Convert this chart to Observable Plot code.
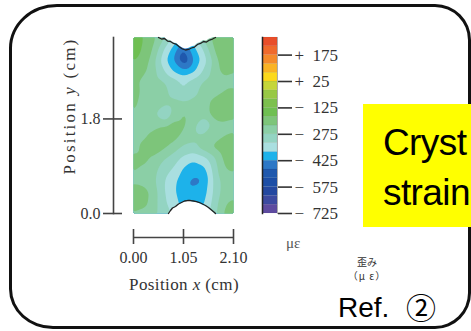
<!DOCTYPE html>
<html><head><meta charset="utf-8">
<script src="https://cdn.jsdelivr.net/npm/d3@7"></script>
<script src="https://cdn.jsdelivr.net/npm/@observablehq/plot@0.6"></script>
<style>
html,body{margin:0;padding:0;background:#fff;}
#stage{position:relative;width:471px;height:331px;overflow:hidden;background:#fff;}
#stage svg{position:absolute;left:0;top:0;}
.box{position:absolute;left:9px;top:4px;width:462px;height:325px;box-sizing:border-box;border:3px solid #111;border-radius:48px 36px 36px 44px / 44px 36px 36px 40px;}
.t{position:absolute;white-space:nowrap;margin:0;}
.serif{font-family:"Liberation Serif","Times New Roman",serif;color:#333;}
.sans{font-family:"Liberation Sans",Arial,sans-serif;color:#000;}
.jp{font-family:"Noto Sans CJK JP",sans-serif;color:#333;}
.yellow{position:absolute;left:363px;top:104px;width:140px;height:123px;background:#ffff00;}
</style>
</head><body>
<div id="stage">
  <div class="box"></div>
  <div class="yellow"></div>
  <div class="t sans" style="left:383px;top:123.7px;font-size:37px;line-height:37px;letter-spacing:-0.6px;">Cryst</div>
  <div class="t sans" style="left:383px;top:173.7px;font-size:37px;line-height:37px;letter-spacing:-0.6px;">strain</div>
  <div class="t serif" style="left:69px;top:106px;font-size:17px;line-height:17px;letter-spacing:2.2px;transform:translate(-50%,-50%) rotate(-90deg);">Position <i>y</i> (cm)</div>
  <div class="t serif" style="left:184px;top:276px;font-size:17px;line-height:17px;letter-spacing:0.4px;transform:translateX(-50%);">Position <i>x</i> (cm)</div>
  <div class="t serif" style="left:286px;top:236.4px;font-size:15px;line-height:15px;color:#555;">με</div>
  <div class="t jp" style="left:367px;top:256.6px;font-size:10px;line-height:10px;transform:translateX(-50%);">歪み</div>
  <div class="t jp" style="left:367px;top:270.6px;font-size:10px;line-height:10px;letter-spacing:1px;transform:translateX(-50%);">（μ ε）</div>
  <div class="t sans" style="left:338px;top:294.3px;font-size:28px;line-height:28px;">Ref.</div>
  <div class="t" style="left:406px;top:291px;font-family:'Noto Sans CJK JP',sans-serif;font-size:30px;line-height:30px;color:#000;">②</div>
</div>
<script>
// ---- data ----
const xDomain = [0, 2.1];
const yDomain = [0, 3.35];
const xTicks = [0, 1.05, 2.1];
const yTicks = [0, 1.8];
// grid sample positions (cm)
const xs = [0, 0.21, 0.42, 0.63, 0.84, 1.05, 1.26, 1.47, 1.68, 1.89, 2.1];
const ys = [3.35, 3.141, 2.931, 2.722, 2.513, 2.303, 2.094, 1.884, 1.675, 1.466, 1.256, 1.047, 0.838, 0.628, 0.419, 0.209, 0];
// strain (με), rows top (y=3.35) to bottom (y=0), columns left to right
const strain = [
  [-168,-172,-215,-265,-330,-390,-330,-265,-215,-185,-190],
  [-165,-175,-230,-320,-390,-480,-390,-320,-225,-180,-185],
  [-170,-185,-255,-354,-425,-530,-425,-354,-260,-185,-200],
  [-190,-210,-255,-320,-385,-420,-390,-320,-255,-205,-220],
  [-210,-240,-255,-270,-300,-335,-305,-270,-250,-240,-250],
  [-200,-240,-255,-260,-290,-330,-290,-255,-245,-225,-210],
  [-210,-245,-255,-260,-262,-265,-250,-250,-210,-180,-190],
  [-225,-255,-260,-335,-255,-215,-245,-255,-205,-180,-210],
  [-245,-255,-245,-230,-200,-215,-255,-335,-255,-245,-245],
  [-255,-235,-205,-180,-200,-245,-260,-260,-245,-225,-210],
  [-250,-205,-185,-215,-250,-285,-290,-250,-215,-195,-190],
  [-205,-210,-235,-270,-300,-340,-370,-345,-290,-215,-195],
  [-220,-235,-255,-300,-330,-385,-400,-395,-310,-230,-215],
  [-240,-250,-260,-320,-360,-405,-440,-425,-320,-255,-255],
  [-190,-200,-245,-320,-365,-410,-415,-405,-320,-255,-250],
  [-190,-205,-250,-315,-350,-400,-405,-385,-310,-235,-210],
  [-235,-245,-260,-305,-330,-380,-385,-360,-300,-220,-190]
];
// notch outlines (cm)
const topNotchX = [0.525,0.588,0.651,0.714,0.777,0.840,0.903,0.966,1.029,1.092,1.155,1.218,1.281,1.344,1.407,1.470,1.533,1.596,1.659,1.722];
const topNotchY = [3.350,3.321,3.331,3.283,3.274,3.236,3.217,3.169,3.131,3.112,3.122,3.150,3.169,3.217,3.236,3.274,3.264,3.302,3.321,3.350];
const botNotchX = [0.735,0.777,0.819,0.882,0.945,1.008,1.071,1.134,1.197,1.260,1.323,1.386,1.449,1.512,1.575,1.638,1.701,1.722];
const botNotchY = [0,0.057,0.105,0.133,0.181,0.209,0.238,0.247,0.247,0.238,0.228,0.209,0.181,0.152,0.114,0.067,0.019,0];
// colour bar: band lower edges (με) and colours, bottom to top
const bandLo = [-725,-675,-625,-575,-525,-475,-425,-375,-325,-275,-225,-175,-125,-75,-25,25,75,125,175,225];
const bandTop = 275;
const bandColors = ["#5e4ba0","#3c4aa0","#2348a0","#1c4ea6","#1f58ad","#2d78c6","#1db2ea","#a9dfe0","#93d4c2","#8bcfa6","#7dc57a","#6fbf52","#7cc04e","#98c845","#c5d63a","#fcd91c","#f9b324","#f48a2a","#ef6a2c","#e84e2a"];
const cbTicks = [175, 25, -125, -275, -425, -575, -725];
const cbLabels = ["+\u2002175", "+\u200225", "\u2212\u2002125", "\u2212\u2002275", "\u2212\u2002425", "\u2212\u2002575", "\u2212\u2002725"];

// ---- build ----
const points = strain.flatMap((row, r) => row.map((v, c) => ({x: xs[c], y: ys[r], v})));
const topNotch = topNotchX.map((x, i) => ({x, y: topNotchY[i]}));
const botNotch = botNotchX.map((x, i) => ({x, y: botNotchY[i]}));
const bandHi = bandLo.map((d, i) => i < bandLo.length - 1 ? bandLo[i + 1] : bandTop);
const colorScale = {type: "threshold", domain: bandLo.slice(1), range: bandColors};
const baseStyle = {fontFamily: "'Liberation Serif', 'Times New Roman', serif", fontSize: "16px", color: "#333", background: "transparent", overflow: "visible"};

const main = Plot.plot({
  width: 471, height: 331,
  marginLeft: 133, marginRight: 238, marginTop: 37, marginBottom: 118,
  x: {domain: xDomain},
  y: {domain: yDomain},
  color: colorScale,
  style: baseStyle,
  marks: [
    Plot.contour(points, {x: "x", y: "y", fill: "v", interpolate: "barycentric", blur: 1, thresholds: bandLo,
      x1: xDomain[0], x2: xDomain[1], y1: yDomain[0], y2: yDomain[1]}),
    Plot.areaY(topNotch, {x: "x", y1: "y", y2: yDomain[1], fill: "white", dy: -1}),
    Plot.areaY(botNotch, {x: "x", y1: yDomain[0], y2: "y", fill: "white", dy: 1}),
    Plot.line(topNotch, {x: "x", y: "y", stroke: "#222", strokeWidth: 1.3}),
    Plot.line(botNotch, {x: "x", y: "y", stroke: "#222", strokeWidth: 1.3}),
    Plot.frame({anchor: "left", dx: -20, stroke: "#444", strokeWidth: 1.6}),
    Plot.axisY({anchor: "left", ticks: yTicks, tickFormat: d => d.toFixed(1), tickSize: 19, dx: -11, tickPadding: 3, label: null, stroke: "#444", strokeWidth: 1.6}),
    Plot.ruleY([yDomain[0]], {x1: xDomain[0], x2: xDomain[1], dy: 24, stroke: "#444", strokeWidth: 1.6}),
    Plot.axisX({anchor: "bottom", ticks: xTicks, tickFormat: d => d.toFixed(2), tickSize: 15, dy: 16, tickPadding: 7, label: null, stroke: "#444", strokeWidth: 1.6})
  ]
});

const bar = Plot.plot({
  width: 471, height: 331,
  marginLeft: 262, marginRight: 194, marginTop: 37, marginBottom: 118,
  y: {domain: [bandLo[0], bandTop]},
  color: colorScale,
  style: {...baseStyle, fontSize: "17px"},
  marks: [
    Plot.rect(bandLo, {y1: d => d, y2: (d, i) => bandHi[i], fill: (d, i) => (d + bandHi[i]) / 2, stroke: "#000", strokeOpacity: 0.07, strokeWidth: 0.6}),
    Plot.frame({anchor: "left", stroke: "#222", strokeWidth: 1.5}),
    Plot.frame({anchor: "right", stroke: "#999", strokeWidth: 0.8}),
    Plot.axisY({anchor: "right", ticks: cbTicks, tickFormat: d => cbLabels[cbTicks.indexOf(d)], tickSize: 14, tickPadding: 3, label: null, stroke: "#333", strokeWidth: 1.6, letterSpacing: 0.8})
  ]
});

const stage = document.getElementById("stage");
stage.insertBefore(main, stage.children[1]);
stage.insertBefore(bar, stage.children[2]);
</script>
</body></html>
